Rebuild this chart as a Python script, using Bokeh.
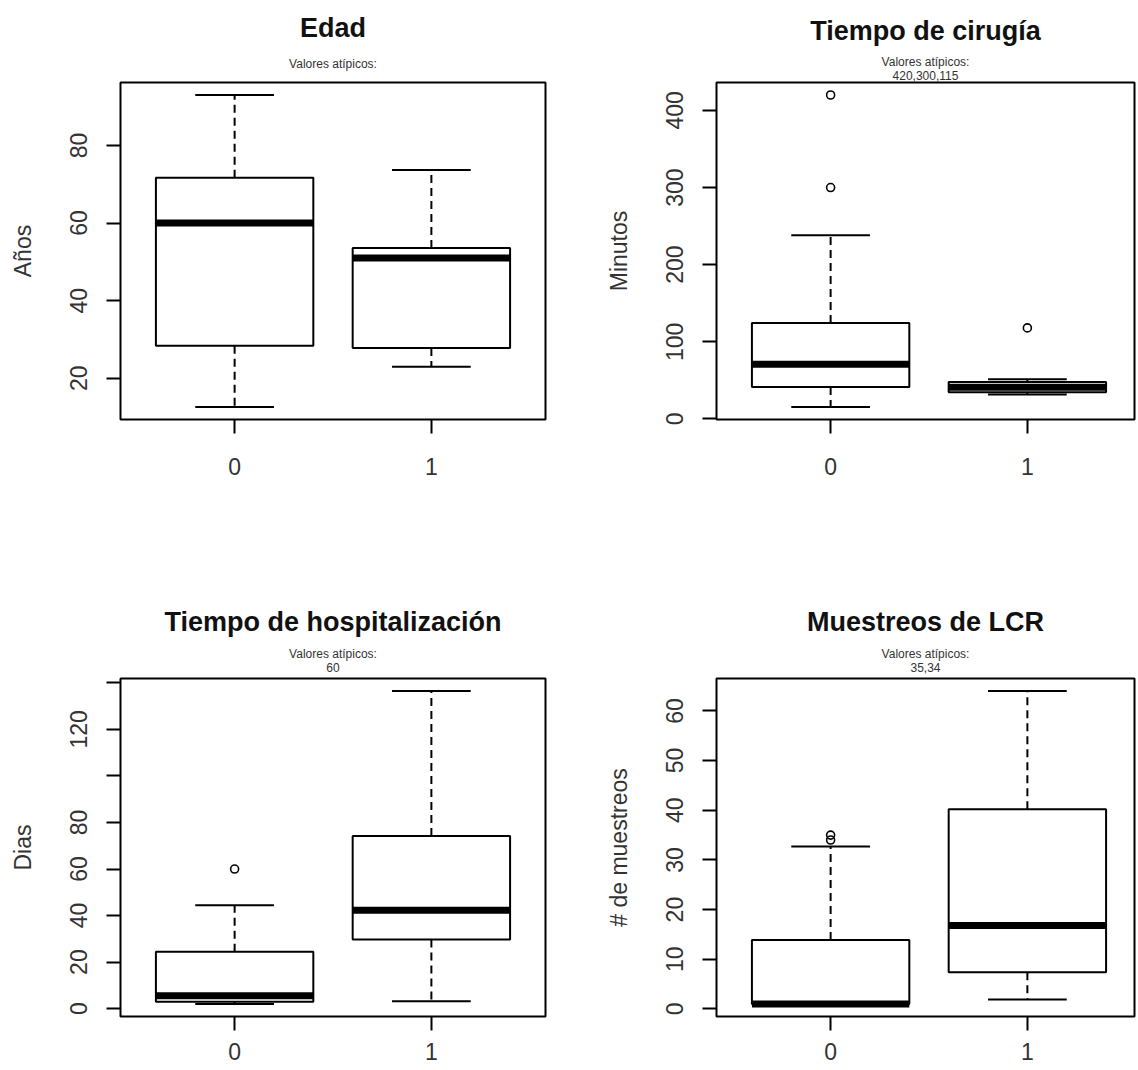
from bokeh.plotting import figure
from bokeh.models import Range1d, FixedTicker, Title
from bokeh.layouts import column, row
from bokeh.embed import file_html
from bokeh.resources import INLINE

# ---------------- data ----------------
groups = ["0", "1"]

titles = ["Edad", "Tiempo de cirugía", "Tiempo de hospitalización", "Muestreos de LCR"]
ylabels = ["Años", "Minutos", "Dias", "# de muestreos"]
subtitle_head = "Valores atípicos:"
subtitle_values = ["", "420,300,115", "60", "35,34"]

edad_low = [12.6, 23.0]
edad_q1 = [28.4, 27.8]
edad_med = [60.0, 51.0]
edad_q3 = [71.7, 53.6]
edad_high = [93.0, 73.7]
edad_out_group = []
edad_out_value = []
edad_ticks = [20, 40, 60, 80]

cir_low = [15.4, 31.5]
cir_q1 = [41.4, 34.5]
cir_med = [71.0, 41.0]
cir_q3 = [124.4, 48.0]
cir_high = [238.0, 51.5]
cir_out_group = ["0", "0", "1"]
cir_out_value = [420, 300, 118]
cir_ticks = [0, 100, 200, 300, 400]

hosp_low = [2.0, 3.2]
hosp_q1 = [3.0, 29.7]
hosp_med = [5.5, 42.3]
hosp_q3 = [24.4, 74.2]
hosp_high = [44.4, 136.5]
hosp_out_group = ["0"]
hosp_out_value = [60]
hosp_ticks = [0, 20, 40, 60, 80, 100, 120, 140]
hosp_unlabeled = [100, 140]

lcr_low = [1.0, 1.9]
lcr_q1 = [1.0, 7.4]
lcr_med = [1.0, 16.8]
lcr_q3 = [13.9, 40.2]
lcr_high = [32.7, 64.0]
lcr_out_group = ["0", "0"]
lcr_out_value = [35, 34]
lcr_ticks = [0, 10, 20, 30, 40, 50, 60]

FONT = "Liberation Sans"
TEXT = "#333333"


def panel(idx, low, q1, med, q3, high, out_g, out_v, ticks, unlabeled,
          width, height, bl, br, bt, bb, xend, x_standoff, spacer_size, title_standoff):
    xs = [i + 1 for i in range(len(groups))]
    vals = list(low) + list(high) + list(out_v)
    lo, hi = min(vals), max(vals)
    pad = 0.04 * (hi - lo)

    p = figure(width=width, height=height, output_backend="svg", toolbar_location=None,
               x_range=Range1d(0.42, xend), y_range=Range1d(lo - pad, hi + pad),
               min_border_left=bl, min_border_right=br, min_border_top=bt, min_border_bottom=bb)
    p.grid.visible = False
    p.outline_line_color = "black"
    p.outline_line_width = 2
    p.background_fill_color = "white"
    p.border_fill_color = "white"

    for ax in (p.xaxis[0], p.yaxis[0]):
        ax.axis_line_color = None
        ax.major_tick_in = 0
        ax.major_tick_out = 14
        ax.major_tick_line_width = 2
        ax.major_tick_line_color = "black"
        ax.minor_tick_line_color = None
        ax.major_label_text_font = FONT
        ax.major_label_text_font_size = "23px"
        ax.major_label_text_color = TEXT

    p.xaxis.ticker = FixedTicker(ticks=xs)
    p.xaxis.major_label_overrides = {x: g for x, g in zip(xs, groups)}
    p.xaxis.major_label_standoff = x_standoff

    p.yaxis.ticker = FixedTicker(ticks=ticks)
    p.yaxis.major_label_overrides = {t: "" for t in unlabeled}
    p.yaxis.major_label_orientation = "vertical"
    p.yaxis.major_label_standoff = 19
    p.yaxis.axis_label = ylabels[idx]
    p.yaxis.axis_label_text_font = FONT
    p.yaxis.axis_label_text_font_size = "23px"
    p.yaxis.axis_label_text_font_style = "normal"
    p.yaxis.axis_label_text_color = TEXT
    p.yaxis.axis_label_standoff = 32

    # whiskers
    p.segment(x0=xs, y0=q3, x1=xs, y1=high, line_color="black", line_width=2, line_dash="8 5")
    p.segment(x0=xs, y0=q1, x1=xs, y1=low, line_color="black", line_width=2, line_dash="8 5")
    # caps
    p.segment(x0=[x - 0.2 for x in xs], y0=low, x1=[x + 0.2 for x in xs], y1=low,
              line_color="black", line_width=2)
    p.segment(x0=[x - 0.2 for x in xs], y0=high, x1=[x + 0.2 for x in xs], y1=high,
              line_color="black", line_width=2)
    # boxes
    p.quad(left=[x - 0.4 for x in xs], right=[x + 0.4 for x in xs], bottom=q1, top=q3,
           fill_color="white", line_color="black", line_width=2)
    # medians
    p.segment(x0=[x - 0.4 for x in xs], y0=med, x1=[x + 0.4 for x in xs], y1=med,
              line_color="black", line_width=7)
    # outliers
    if out_v:
        ox = [groups.index(g) + 1 for g in out_g]
        p.scatter(x=ox, y=out_v, marker="circle", size=8, fill_color=None,
                  line_color="black", line_width=1.6)

    # titles stacked above the frame (first added = closest to frame)
    p.add_layout(Title(text=" ", align="center", text_font=FONT, text_font_size=spacer_size,
                       text_color="white", standoff=0), "above")
    if subtitle_values[idx]:
        p.add_layout(Title(text=subtitle_values[idx], align="center", text_font=FONT,
                           text_font_size="12px", text_font_style="normal",
                           text_color=TEXT, standoff=0), "above")
        head_standoff = 0
    else:
        head_standoff = 17
        title_standoff = 8
    p.add_layout(Title(text=subtitle_head, align="center", text_font=FONT,
                       text_font_size="12px", text_font_style="normal",
                       text_color=TEXT, standoff=head_standoff), "above")
    p.add_layout(Title(text=titles[idx], align="center", text_font=FONT,
                       text_font_size="27px", text_font_style="bold",
                       text_color="#111111", standoff=title_standoff), "above")
    return p


right_end = 0.42 + 2.16 * 418 / 425

p1 = panel(0, edad_low, edad_q1, edad_med, edad_q3, edad_high, edad_out_group, edad_out_value,
           edad_ticks, [], 569, 590, 120, 24, 82, 171, 2.58, 24, "1px", 13)
p2 = panel(1, cir_low, cir_q1, cir_med, cir_q3, cir_high, cir_out_group, cir_out_value,
           cir_ticks, [], 567, 590, 147, 2, 82, 171, right_end, 24, "1px", 13)
p3 = panel(2, hosp_low, hosp_q1, hosp_med, hosp_q3, hosp_high, hosp_out_group, hosp_out_value,
           hosp_ticks, hosp_unlabeled, 569, 478, 120, 24, 88, 52, 2.58, 12, "4px", 16)
p4 = panel(3, lcr_low, lcr_q1, lcr_med, lcr_q3, lcr_high, lcr_out_group, lcr_out_value,
           lcr_ticks, [], 567, 478, 147, 2, 88, 52, right_end, 12, "4px", 16)

layout = column(row(p1, p2, spacing=0), row(p3, p4, spacing=0), spacing=0)

open("out.html", "w").write(file_html(layout, INLINE))
